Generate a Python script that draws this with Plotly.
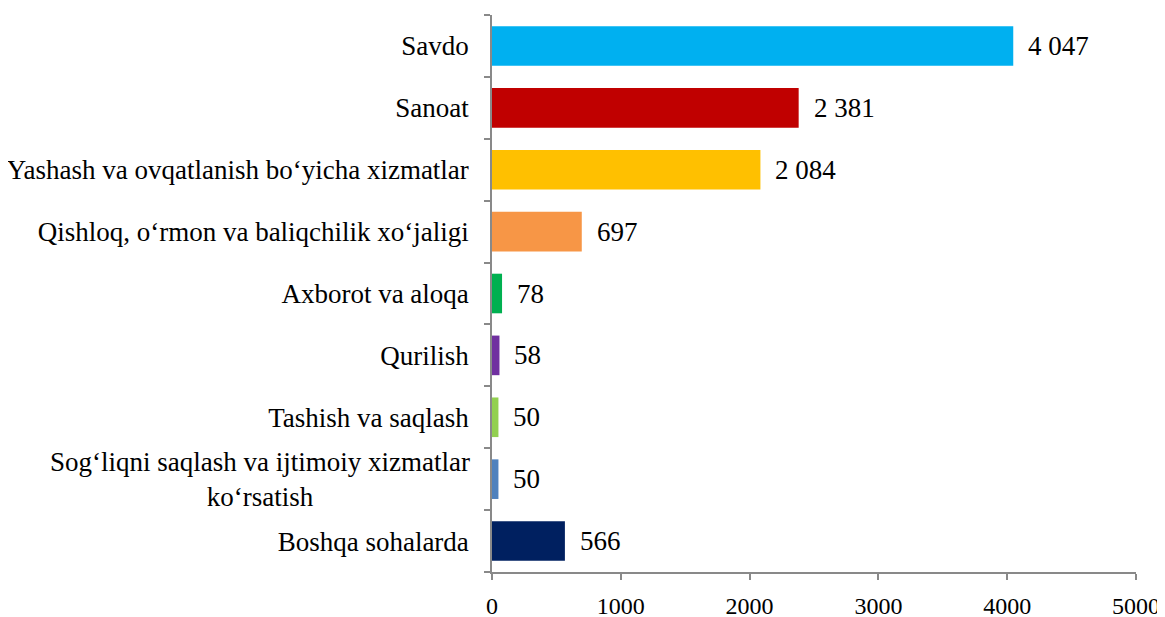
import plotly.graph_objects as go

categories = [
    "Savdo",
    "Sanoat",
    "Yashash va ovqatlanish bo‘yicha xizmatlar",
    "Qishloq, o‘rmon va baliqchilik xo‘jaligi",
    "Axborot va aloqa",
    "Qurilish",
    "Tashish va saqlash",
    "Sog‘liqni saqlash va ijtimoiy xizmatlar<br>ko‘rsatish",
    "Boshqa sohalarda",
]
values = [4047, 2381, 2084, 697, 78, 58, 50, 50, 566]
colors = ["#00B0F0", "#C00000", "#FFC000", "#F79646", "#00B050",
          "#7030A0", "#92D050", "#4F81BD", "#002060"]
x_ticks = [0, 1000, 2000, 3000, 4000, 5000]

FONT = "Liberation Serif, Times New Roman, serif"
AXIS_COLOR = "#898989"

value_text = [f"{v:,}".replace(",", " ") for v in values]
tick_text = ["" if "<br>" in c else c for c in categories]

fig = go.Figure(go.Bar(
    y=categories,
    x=values,
    orientation="h",
    marker=dict(color=colors, line=dict(width=0)),
))

annotations = []
for c, v, t in zip(categories, values, value_text):
    annotations.append(dict(
        x=v, xref="x", y=c, yref="y",
        text=t, showarrow=False, xanchor="left", yanchor="middle",
        xshift=13,
        font=dict(family=FONT, size=27, color="#000000"),
    ))
    if "<br>" in c:
        annotations.append(dict(
            x=0, xref="paper", y=c, yref="y",
            text=c, showarrow=False, xanchor="right", yanchor="middle",
            align="center", xshift=-20,
            font=dict(family=FONT, size=27, color="#000000"),
        ))

fig.update_layout(
    width=1157, height=617,
    margin=dict(l=484, r=29, t=7, b=53),
    paper_bgcolor="white", plot_bgcolor="white",
    bargap=0.36,
    showlegend=False,
    font=dict(family=FONT, size=24, color="#000000"),
    annotations=annotations,
    xaxis=dict(
        range=[0, 5000],
        tickvals=x_ticks,
        ticks="outside", ticklen=6, tickwidth=1.5, tickcolor=AXIS_COLOR,
        showline=True, linecolor=AXIS_COLOR, linewidth=1.5,
        showgrid=False, zeroline=False, automargin=False,
        tickfont=dict(family=FONT, size=24, color="#000000"),
        ticklabelstandoff=5,
    ),
    yaxis=dict(
        categoryorder="array", categoryarray=categories,
        tickvals=categories, ticktext=tick_text,
        autorange="reversed",
        tickson="boundaries",
        ticks="outside", ticklen=6, tickwidth=1.5, tickcolor=AXIS_COLOR,
        showline=True, linecolor=AXIS_COLOR, linewidth=1.5,
        showgrid=False, zeroline=False, automargin=False,
        tickfont=dict(family=FONT, size=27, color="#000000"),
        ticklabelstandoff=16,
    ),
)

fig.write_html("out.html")
